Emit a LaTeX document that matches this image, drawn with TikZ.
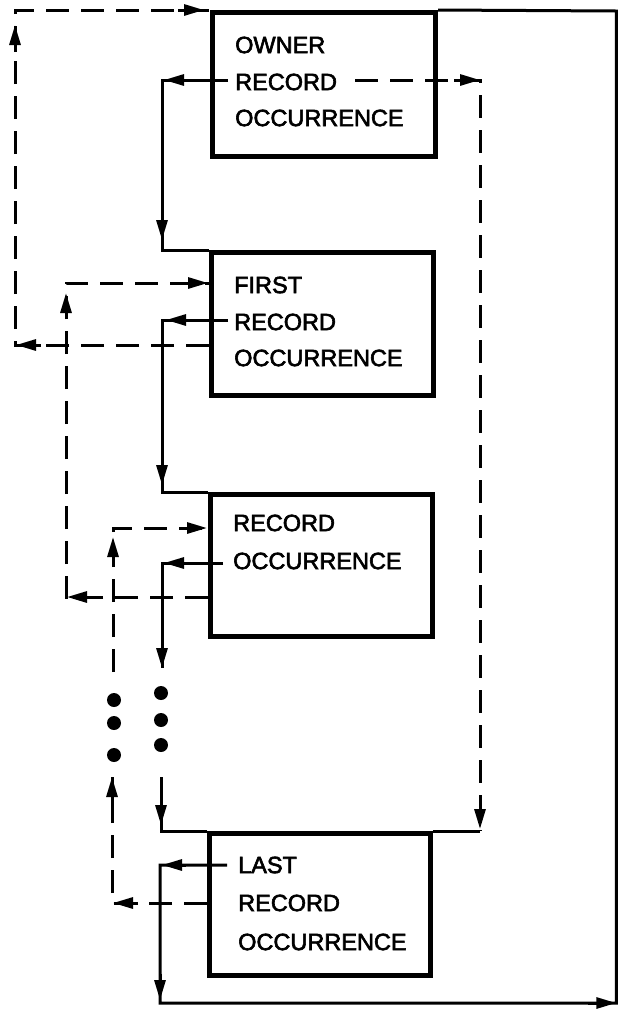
\documentclass[tikz,border=0pt]{standalone}
\usepackage{fontspec}
\setmainfont{Liberation Sans}
\newfontfamily\lblfont[FakeBold=2.6]{Liberation Sans}
\usetikzlibrary{arrows.meta,calc}
\begin{document}
\begin{tikzpicture}[x=1pt,y=-1pt,
  recbox/.style={draw, line width=5pt, inner sep=0pt, anchor=north west},
  lbl/.style={anchor=west, inner sep=0pt, font=\lblfont\fontsize{23.5}{28}\selectfont},
  solidc/.style={line width=3pt},
  dashc/.style={line width=3pt, dash pattern=on 23pt off 12pt},
  tip/.style={line width=3pt, -{Triangle[length=20pt,width=11pt]}},
  dotc/.style={circle, fill, inner sep=0pt, minimum size=14pt}
]
\useasboundingbox (0,0) rectangle (618,1013);

% boxes
\node[recbox, minimum width=223pt, minimum height=144pt] (b1) at (210,10) {};
\node[recbox, minimum width=222pt, minimum height=143pt] (b2) at (209,250) {};
\node[recbox, minimum width=222pt, minimum height=142pt] (b3) at (208,492) {};
\node[recbox, minimum width=221pt, minimum height=142pt] (b4) at (207,831) {};

% texts
\node[lbl] (t11) at (235,45) {OWNER};
\node[lbl] (t12) at (235,82) {RECORD};
\node[lbl] (t13) at (235,118) {OCCURRENCE};
\node[lbl] (t21) at (234,285) {FIRST};
\node[lbl] (t22) at (234,322) {RECORD};
\node[lbl] (t23) at (234,358) {OCCURRENCE};
\node[lbl] (t31) at (233,523) {RECORD};
\node[lbl] (t32) at (233,561) {OCCURRENCE};
\node[lbl] (t41) at (238,865) {LAST};
\node[lbl] (t42) at (238,903) {RECORD};
\node[lbl] (t43) at (238,942) {OCCURRENCE};

% coordinates
\coordinate (on-s) at (228,80);
\coordinate (on-c) at (162,80);
\coordinate (on-e) at (162,250);
\coordinate (ol-s) at (355,80);
\coordinate (ol-c) at (480,80);
\coordinate (ol-e) at (480,831);
\coordinate (p2-s) at (209,345);
\coordinate (p2-c1) at (15,345);
\coordinate (p2-c2) at (15,10);
\coordinate (n2-s) at (228,320);
\coordinate (n2-c) at (162,320);
\coordinate (n2-e) at (162,492);
\coordinate (p3-s) at (208,597);
\coordinate (p3-c1) at (66,597);
\coordinate (p3-c2) at (66,283);
\coordinate (p3-e) at (209,283);
\coordinate (n3-s) at (223,563);
\coordinate (n3-c) at (162,563);
\coordinate (n3-e) at (162,668);
\coordinate (n3b-s) at (161,777);
\coordinate (n3b-e) at (161,831);
\coordinate (p4-s) at (207,903);
\coordinate (p4-c) at (112,903);
\coordinate (p4-e) at (112,777);
\coordinate (p4b-s) at (113,672);
\coordinate (p4b-c) at (113,528);
\coordinate (p4b-e) at (208,528);
\coordinate (n4-s) at (227,865);
\coordinate (n4-c) at (160,865);
\coordinate (n4-c2) at (160,1003);
\coordinate (rb) at (616.3,1003);
\coordinate (rt) at (616.3,11);

% solid connectors (next pointers)
\draw[solidc] (on-s) -- (on-c) -- (on-e) -- (b2.north west);
\draw[solidc] (n2-s) -- (n2-c) -- (n2-e) -- (b3.north west);
\draw[solidc] (n3-s) -- (n3-c) -- (n3-e);
\draw[solidc] (n3b-s) -- (n3b-e) -- (b4.north west);
\draw[solidc] (b4.north east) -- (ol-e);
\draw[solidc] (n4-s) -- (n4-c) -- (n4-c2) -- (rb) -- (rt) -- (b1.north east);

% dashed connectors (prior / last pointers)
\draw[dashc] (ol-s) -- (ol-c) -- (ol-e);
\draw[dashc] (p2-s) -- (p2-c1) -- (p2-c2) -- (b1.north west);
\draw[dashc] (p3-s) -- (p3-c1) -- (p3-c2) -- (p3-e);
\draw[dashc] (p4-s) -- (p4-c) -- (p4-e);
\draw[dashc] (p4b-s) -- (p4b-c) -- (p4b-e);

% arrowheads
\draw[tip] ($(on-c)+(28,0)$) -- ($(on-c)+(2,0)$);
\draw[tip] ($(on-e)+(0,-36)$) -- ($(on-e)+(0,-10)$);
\draw[tip] ($(ol-c)+(-26,0)$) -- (ol-c);
\draw[tip] ($(ol-e)+(0,-28)$) -- ($(ol-e)+(0,-2)$);
\draw[tip] ($(p2-c1)+(26,0)$) -- ($(p2-c1)+(1,0)$);
\draw[tip] ($(p2-c2)+(0,42)$) -- ($(p2-c2)+(0,15)$);
\draw[tip] ($(b1.north west)+(-32,0)$) -- ($(b1.north west)+(-6,0)$);
\draw[tip] ($(n2-c)+(30,0)$) -- ($(n2-c)+(4,0)$);
\draw[tip] ($(n2-e)+(0,-33)$) -- ($(n2-e)+(0,-7)$);
\draw[tip] ($(p3-c1)+(26,0)$) -- ($(p3-c1)+(1,0)$);
\draw[tip] ($(p3-c2)+(0,36)$) -- ($(p3-c2)+(0,10)$);
\draw[tip] ($(p3-e)+(-28,0)$) -- ($(p3-e)+(-1,0)$);
\draw[tip] ($(n3-c)+(28,0)$) -- ($(n3-c)+(2,0)$);
\draw[tip] ($(n3-e)+(0,-26)$) -- (n3-e);
\draw[tip] ($(n3b-e)+(0,-32)$) -- ($(n3b-e)+(0,-6)$);
\draw[tip] ($(p4-c)+(26,0)$) -- ($(p4-c)+(1,0)$);
\draw[tip] ($(p4-e)+(0,28)$) -- (p4-e);
\draw[tip] ($(p4b-c)+(0,36)$) -- ($(p4b-c)+(0,9)$);
\draw[tip] ($(p4b-e)+(-28,0)$) -- ($(p4b-e)+(-1,0)$);
\draw[tip] ($(n4-c)+(26,0)$) -- ($(n4-c)+(2,0)$);
\draw[tip] ($(n4-c2)+(0,-29)$) -- ($(n4-c2)+(0,-3)$);
\draw[tip] ($(rb)+(-28,0)$) -- (rb);

% continuation dots
\node[dotc] (d1) at (161,693) {};
\node[dotc] (d2) at (161,720) {};
\node[dotc] (d3) at (161,745) {};
\node[dotc] (d4) at (114,700) {};
\node[dotc] (d5) at (114,723) {};
\node[dotc] (d6) at (114,755) {};
\end{tikzpicture}
\end{document}
